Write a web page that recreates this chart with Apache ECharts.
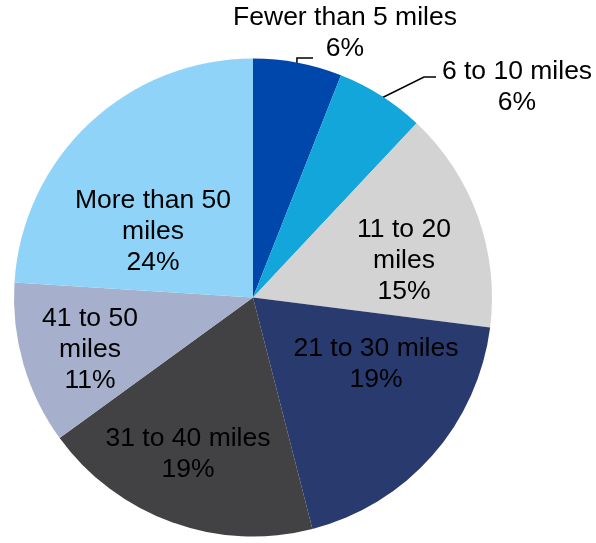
<!DOCTYPE html>
<html>
<head>
<meta charset="utf-8">
<script src="https://cdn.jsdelivr.net/npm/echarts@6/dist/echarts.min.js"></script>
<style>
html,body{margin:0;padding:0;background:#fff;}
#chart{width:596px;height:543px;}
</style>
</head>
<body>
<div id="chart"></div>
<script>
var categories = ['Fewer than 5 miles', '6 to 10 miles', '11 to 20 miles', '21 to 30 miles', '31 to 40 miles', '41 to 50 miles', 'More than 50 miles'];
var labelTexts = ['Fewer than 5 miles\n6%', '6 to 10 miles\n6%', '11 to 20\nmiles\n15%', '21 to 30 miles\n19%', '31 to 40 miles\n19%', '41 to 50\nmiles\n11%', 'More than 50\nmiles\n24%'];
var values = [6, 6, 15, 19, 19, 11, 24];
var colors = ['#0047AB', '#12A6DA', '#D3D3D3', '#293A6E', '#424244', '#A6AFCB', '#8FD3F8'];

// label layout (centers of the label blocks), separate from data
var labelPos = [
  {x: 345, y: 33, elbow: [[null, 58], [313, 58]]},
  {x: 517, y: 87, elbow: [[424, 77], [436, 77]]},
  {x: 404, y: 261},
  {x: 376, y: 364},
  {x: 188, y: 454},
  {x: 90, y: 350},
  {x: 153, y: 232}
];

var CX = 253, CY = 297.5;

var data = categories.map(function (c, i) {
  var outside = i < 2;
  return {
    name: c,
    value: values[i],
    itemStyle: {color: colors[i]},
    label: {position: outside ? 'outside' : 'inside'},
    labelLine: {show: outside}
  };
});

var chart = echarts.init(document.getElementById('chart'), null, {renderer: 'canvas'});
chart.setOption({
  animation: false,
  backgroundColor: '#ffffff',
  series: [{
    type: 'pie',
    center: [CX, CY],
    radius: 239,
    startAngle: 90,
    clockwise: true,
    avoidLabelOverlap: false,
    data: data,
    itemStyle: {borderWidth: 0},
    label: {
      show: true,
      formatter: function (p) { return labelTexts[p.dataIndex]; },
      fontFamily: '"Liberation Sans", Arial, sans-serif',
      fontSize: 26.5,
      lineHeight: 31,
      color: '#000000',
      align: 'center'
    },
    labelLine: {
      lineStyle: {color: '#000000', width: 1.5},
      length: 10,
      length2: 10
    },
    labelLayout: function (params) {
      var lp = labelPos[params.dataIndex];
      var res = {x: lp.x, y: lp.y, align: 'center', verticalAlign: 'middle'};
      if (lp.elbow && params.labelLinePoints) {
        var s = params.labelLinePoints[0];
        // start slightly inside the slice edge, as in the reference
        var dx = s[0] - CX, dy = s[1] - CY;
        var d = Math.sqrt(dx * dx + dy * dy);
        var k = (d - 4.5) / d;
        var sx = CX + dx * k, sy = CY + dy * k;
        var pts = [[sx, sy]];
        lp.elbow.forEach(function (e) {
          pts.push([e[0] === null ? sx : e[0], e[1]]);
        });
        res.labelLinePoints = pts;
      }
      return res;
    }
  }]
});
</script>
</body>
</html>
